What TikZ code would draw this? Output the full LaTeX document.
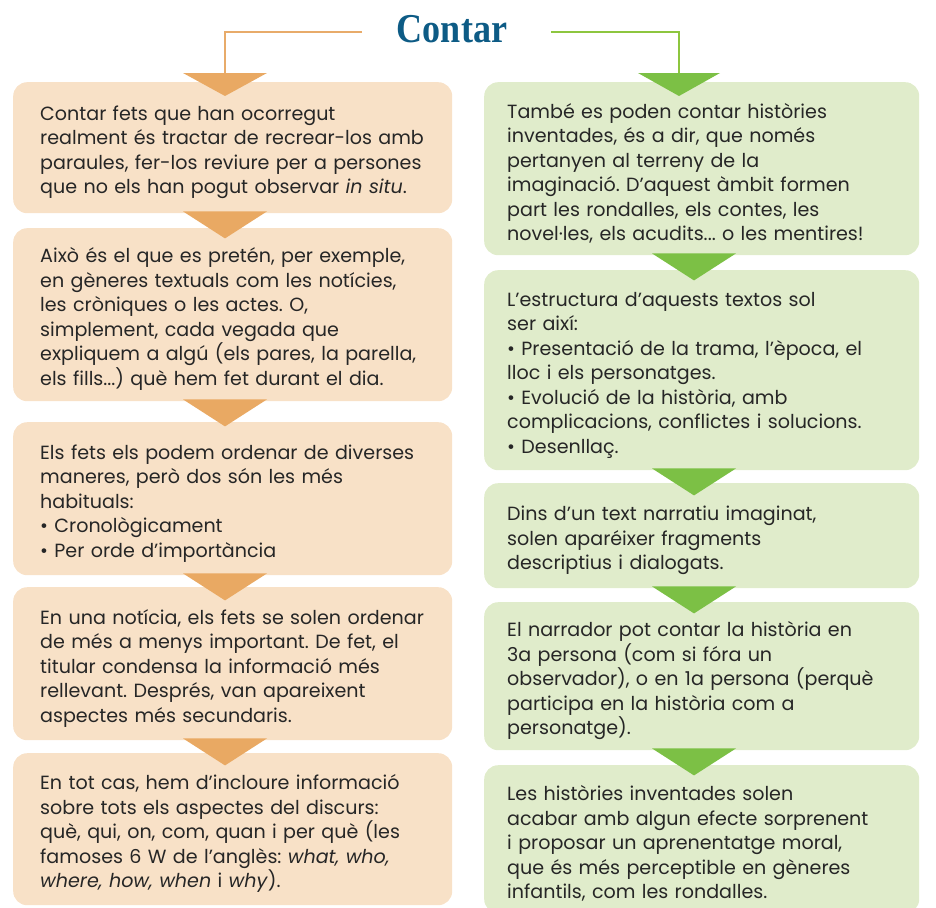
\documentclass[tikz,border=0pt]{standalone}
\usepackage{fontspec}
\setmainfont{Poppins}
\newfontfamily\titlefont{Liberation Serif}
\usetikzlibrary{calc}
\definecolor{titleblue}{HTML}{0D5B85}
\definecolor{otri}{HTML}{E9A963}
\definecolor{obox}{HTML}{F8E1C7}
\definecolor{gtri}{HTML}{7CC045}
\definecolor{gbox}{HTML}{E0ECCB}
\definecolor{oline}{HTML}{E8AB6A}
\definecolor{gline}{HTML}{8DC63F}
\definecolor{txt}{HTML}{262626}
\newcommand\downtri[3]{\fill[#3] ($(#1.south -| #2)+(-42,-2)$) -- ($(#1.south -| #2)+(42,-2)$) -- ($(#1.south -| #2)+(0,25)$) -- cycle;}
\newcommand\tstrut{\rule{0pt}{24pt}}
\begin{document}
\frenchspacing
\begin{tikzpicture}[x=1pt,y=-1pt,
  basebox/.style={rounded corners=14pt, anchor=north west, inner ysep=0pt, align=left,
    text=txt, font=\frenchspacing\fontsize{19.1}{24.5}\selectfont},
  leftbox/.style={basebox, fill=obox, text width=385pt, inner xsep=27pt},
  rightbox/.style={basebox, fill=gbox, text width=389pt, inner xsep=23pt},
  conn/.style={line width=2.6pt}]
\useasboundingbox (0,0) rectangle (936,907);
% title
\node[anchor=base, text=titleblue, inner sep=0pt] (title) at (452,43)
  {\scalebox{0.88}[1]{\titlefont\bfseries\fontsize{41}{41}\selectfont Contar}};
% left column
\node[leftbox, minimum height=131pt] (L1) at (13,82) {\tstrut Contar fets que han ocorregut\\
realment és tractar de recrear-los amb\\
paraules, fer-los reviure per a persones\\
que no els han pogut observar \textit{in situ}.};
\node[leftbox, minimum height=173pt] (L2) at (13,228) {\tstrut Això és el que es pretén, per exemple,\\
en gèneres textuals com les notícies,\\
les cròniques o les actes. O,\\
simplement, cada vegada que\\
expliquem a algú (els pares, la parella,\\
els fills...) què hem fet durant el dia.};
\node[leftbox, minimum height=153pt] (L3) at (13,422) {\tstrut Els fets els podem ordenar de diverses\\
maneres, però dos són les més\\
habituals:\\
• Cronològicament\\
• Per orde d’importància};
\node[leftbox, minimum height=153pt] (L4) at (13,587) {\tstrut En una notícia, els fets se solen ordenar\\
de més a menys important. De fet, el\\
titular condensa la informació més\\
rellevant. Després, van apareixent\\
aspectes més secundaris.};
\node[leftbox, minimum height=152pt] (L5) at (13,753) {\tstrut En tot cas, hem d’incloure informació\\
sobre tots els aspectes del discurs:\\
què, qui, on, com, quan i per què (les\\
famoses 6 W de l’anglès: \textit{what, who,}\\
\textit{where, how, when} i \textit{why}).};
% right column
\node[rightbox, minimum height=173pt] (R1) at (484,82) {\tstrut També es poden contar històries\\
inventades, és a dir, que només\\
pertanyen al terreny de la\\
imaginació. D’aquest àmbit formen\\
part les rondalles, els contes, les\\
novel·les, els acudits... o les mentires!};
\node[rightbox, minimum height=200pt] (R2) at (484,270) {\tstrut L’estructura d’aquests textos sol\\
ser així:\\
• Presentació de la trama, l’època, el\\
lloc i els personatges.\\
• Evolució de la història, amb\\
complicacions, conflictes i solucions.\\
• Desenllaç.};
\node[rightbox, minimum height=105pt] (R3) at (484,483) {\tstrut Dins d’un text narratiu imaginat,\\
solen aparéixer fragments\\
descriptius i dialogats.};
\node[rightbox, minimum height=148pt] (R4) at (484,602) {\tstrut El narrador pot contar la història en\\
3a persona (com si fóra un\\
observador), o en 1a persona (perquè\\
participa en la història com a\\
personatge).};
\node[rightbox, minimum height=148pt] (R5) at (484,765) {\tstrut Les històries inventades solen\\
acabar amb algun efecte sorprenent\\
i proposar un aprenentatge moral,\\
que és més perceptible en gèneres\\
infantils, com les rondalles.};
% connectors from title
\coordinate (lx) at (225,0);
\coordinate (gx) at (694,0);
\coordinate (ostart) at (362,32);
\coordinate (gstart) at (551,32);
\coordinate (otop) at (225,73);
\coordinate (gtop) at (679,73);
\draw[conn, oline] (ostart) -| (otop);
\draw[conn, gline] (gstart) -| (gtop);
\fill[otri] ($(otop)+(-42,0)$) -- ($(otop)+(42,0)$) -- ($(otop)+(0,23)$) -- cycle;
\fill[gtri] ($(gtop)+(-41,0)$) -- ($(gtop)+(41,0)$) -- ($(gtop)+(0,23)$) -- cycle;
% triangles between boxes
\downtri{L1}{lx}{otri}
\downtri{L2}{lx}{otri}
\downtri{L3}{lx}{otri}
\downtri{L4}{lx}{otri}
\downtri{R1}{gx}{gtri}
\downtri{R2}{gx}{gtri}
\downtri{R3}{gx}{gtri}
\downtri{R4}{gx}{gtri}
\end{tikzpicture}
\end{document}
